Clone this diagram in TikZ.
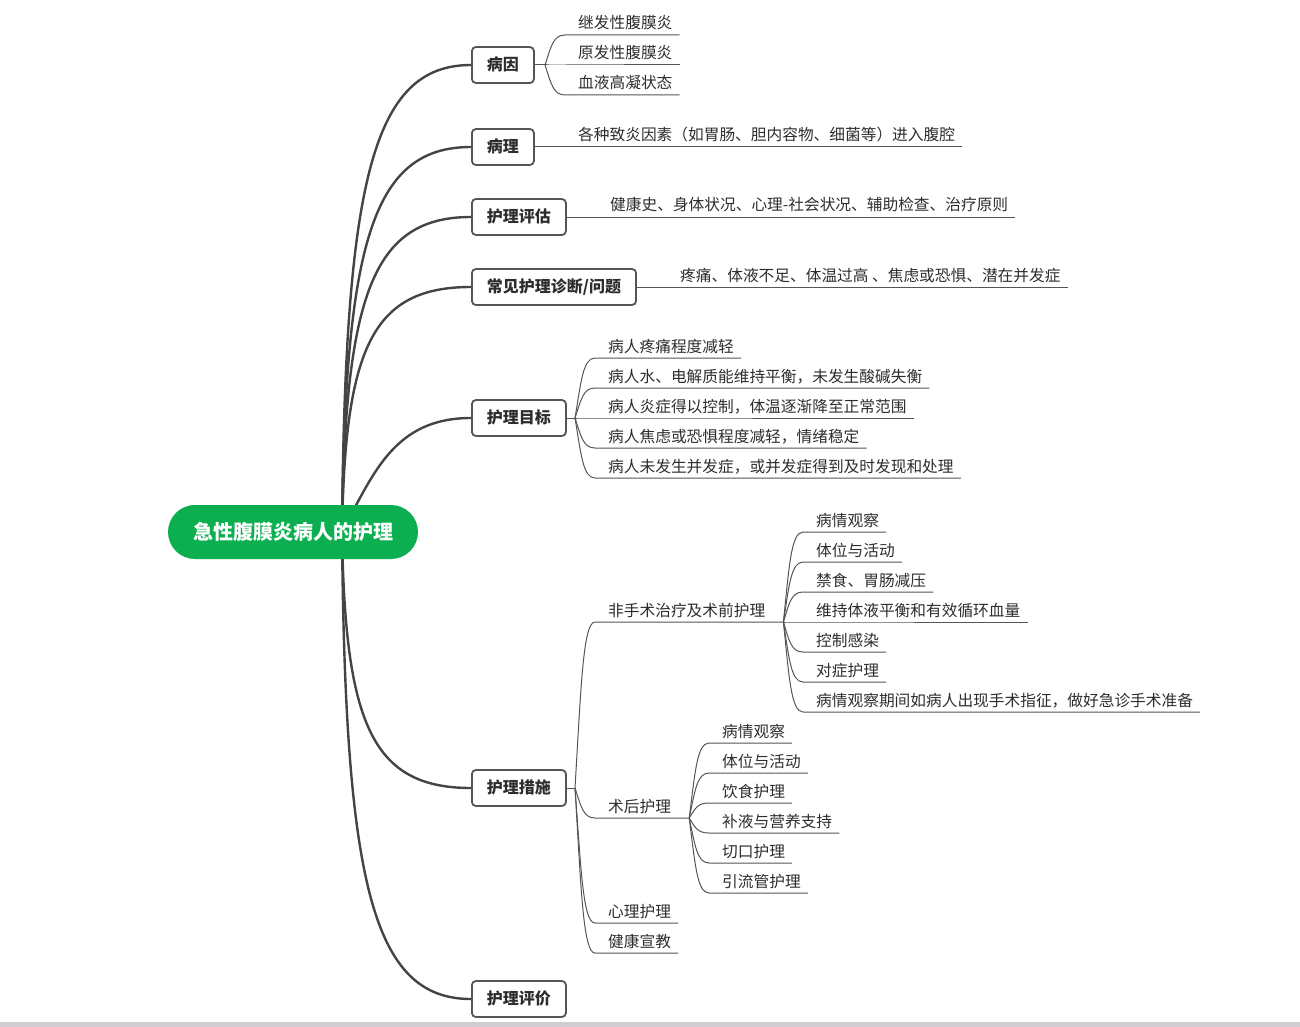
\documentclass[tikz,border=0pt]{standalone}
\usepackage{fontspec}
\setmainfont{Noto Sans CJK SC}
\usetikzlibrary{calc,backgrounds}
\definecolor{rootgreen}{RGB}{11,175,80}
\definecolor{txt}{RGB}{45,45,45}
\definecolor{mainline}{RGB}{68,68,68}
\definecolor{subline}{RGB}{85,85,85}
\definecolor{boxborder}{RGB}{85,85,85}
\definecolor{bargray}{RGB}{207,205,210}
% #1 fan coordinate, #2 fan x, #3 fan y, #4 underline y, #5 node name, #6 text
\newcommand{\leafon}[6]{%
  \node[leaf] (#5) at ({#2+33},{#4-6}) {#6};
  \draw[subbranch] (#1) .. controls ({#2+6},{#3+0.6*(#4-#3)}) and ({#2+8},{#4}) .. ({#2+20},{#4})
     -- ([xshift=7pt,yshift=-6pt]#5.base east);
}
\begin{document}
\begin{tikzpicture}[x=1pt,y=-1pt,
  rootnode/.style={fill=rootgreen, rounded corners=27pt, minimum width=250pt, minimum height=54pt,
    text=white, font=\bfseries\fontsize{20}{24}\selectfont, inner sep=0pt},
  topicbox/.style={draw=boxborder, line width=1.8pt, rounded corners=4pt, fill=white, text=txt,
    font=\bfseries\fontsize{16}{19}\selectfont, minimum height=36pt, inner xsep=15pt, inner ysep=0pt,
    text height=13pt, text depth=2pt, anchor=west},
  leaf/.style={text=txt, font=\fontsize{15.7}{19}\selectfont, inner sep=0pt, anchor=base west},
  mainbranch/.style={draw=mainline, line width=2.4pt},
  subbranch/.style={draw=subline, line width=1pt},
]
\useasboundingbox (0,0) rectangle (1300,1027);
\fill[bargray] (0,1022) rectangle (1300,1027);

\coordinate (rc) at (342,532);

% root
\node[rootnode] (root) at (293,532) {急性腹膜炎病人的护理};

% topic boxes
\path (471,65) node[topicbox] (b1) {病因};
\path (471,147) node[topicbox] (b2) {病理};
\path (471,217) node[topicbox] (b3) {护理评估};
\path (471,287) node[topicbox] (b4) {常见护理诊断/问题};
\path (471,418) node[topicbox] (b5) {护理目标};
\path (471,788) node[topicbox] (b6) {护理措施};
\path (471,999) node[topicbox] (b7) {护理评价};

% main branches (behind root and boxes)
\begin{scope}[on background layer]
\draw[mainbranch] (rc) .. controls (345,182) and (372,65) .. (b1.west);
\draw[mainbranch] (rc) .. controls (345,243) and (372,147) .. (b2.west);
\draw[mainbranch] (rc) .. controls (345,296) and (372,217) .. (b3.west);
\draw[mainbranch] (rc) .. controls (345,348) and (372,287) .. (b4.west);
\draw[mainbranch] (rc) .. controls (374,472) and (395,418) .. (b5.west);
\draw[mainbranch] (rc) .. controls (345,724) and (372,788) .. (b6.west);
\draw[mainbranch] (rc) .. controls (345,882) and (372,999) .. (b7.west);
\end{scope}

% 病因
\coordinate (f1) at (545,65);
\draw[subbranch] (b1.east) -- (f1);
\leafon{f1}{545}{65}{35}{l11}{继发性腹膜炎}
\leafon{f1}{545}{65}{65}{l12}{原发性腹膜炎}
\leafon{f1}{545}{65}{95}{l13}{血液高凝状态}

% 病理
\node[leaf] (l21) at (578,141) {各种致炎因素（如胃肠、胆内容物、细菌等）进入腹腔};
\draw[subbranch] (b2.east) -- ([xshift=7pt,yshift=-6pt]l21.base east);

% 护理评估
\node[leaf] (l31) at (610,211) {健康史、身体状况、心理-社会状况、辅助检查、治疗原则};
\draw[subbranch] (b3.east) -- ([xshift=7pt,yshift=-6pt]l31.base east);

% 常见护理诊断/问题
\node[leaf] (l41) at (680,281) {疼痛、体液不足、体温过高 、焦虑或恐惧、潜在并发症};
\draw[subbranch] (b4.east) -- ([xshift=7pt,yshift=-6pt]l41.base east);

% 护理目标
\coordinate (f5) at (575,418);
\draw[subbranch] (b5.east) -- (f5);
\leafon{f5}{575}{418}{358}{l51}{病人疼痛程度减轻}
\leafon{f5}{575}{418}{388}{l52}{病人水、电解质能维持平衡，未发生酸碱失衡}
\leafon{f5}{575}{418}{418}{l53}{病人炎症得以控制，体温逐渐降至正常范围}
\leafon{f5}{575}{418}{448}{l54}{病人焦虑或恐惧程度减轻，情绪稳定}
\leafon{f5}{575}{418}{478}{l55}{病人未发生并发症，或并发症得到及时发现和处理}

% 护理措施
\coordinate (f6) at (575,788);
\draw[subbranch] (b6.east) -- (f6);
\node[leaf] (l61) at (608,616) {非手术治疗及术前护理};
\coordinate (f7) at ([xshift=18pt,yshift=-6pt]l61.base east);
\draw[subbranch] (f6) .. controls (581,688) and (583,622) .. (595,622) -- (f7);
\node[leaf] (l62) at (608,812) {术后护理};
\coordinate (f8) at ([xshift=18pt,yshift=-6pt]l62.base east);
\draw[subbranch] (f6) .. controls (581,806) and (583,818) .. (595,818) -- (f8);
\leafon{f6}{575}{788}{923}{l63}{心理护理}
\leafon{f6}{575}{788}{953}{l64}{健康宣教}

% 非手术治疗及术前护理
\leafon{f7}{783}{622}{532}{l71}{病情观察}
\leafon{f7}{783}{622}{562}{l72}{体位与活动}
\leafon{f7}{783}{622}{592}{l73}{禁食、胃肠减压}
\leafon{f7}{783}{622}{622}{l74}{维持体液平衡和有效循环血量}
\leafon{f7}{783}{622}{652}{l75}{控制感染}
\leafon{f7}{783}{622}{682}{l76}{对症护理}
\leafon{f7}{783}{622}{712}{l77}{病情观察期间如病人出现手术指征，做好急诊手术准备}

% 术后护理
\leafon{f8}{689}{818}{743}{l81}{病情观察}
\leafon{f8}{689}{818}{773}{l82}{体位与活动}
\leafon{f8}{689}{818}{803}{l83}{饮食护理}
\leafon{f8}{689}{818}{833}{l84}{补液与营养支持}
\leafon{f8}{689}{818}{863}{l85}{切口护理}
\leafon{f8}{689}{818}{893}{l86}{引流管护理}
\end{tikzpicture}
\end{document}
